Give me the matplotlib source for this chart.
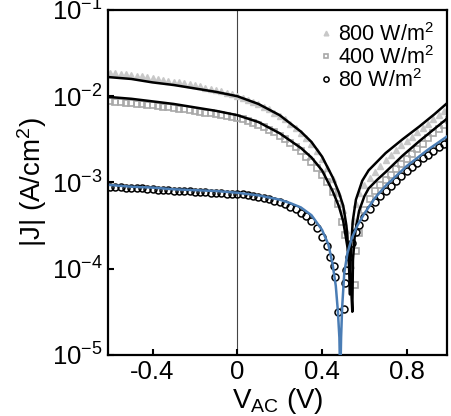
#!/usr/bin/env python3
"""J-V curves (log |J|) at three irradiances with fits."""
import matplotlib
matplotlib.use("Agg")
import matplotlib.pyplot as plt
import numpy as np

plt.rcParams["font.family"] = ["Liberation Sans", "DejaVu Sans"]
plt.rcParams["mathtext.fontset"] = "custom"
plt.rcParams["mathtext.rm"] = "Liberation Sans"
plt.rcParams["mathtext.it"] = "Liberation Sans:italic"
plt.rcParams["axes.unicode_minus"] = False

# measured data, log10 |J| (A/cm2)
v_800 = [-0.6, -0.575, -0.55, -0.525, -0.5, -0.475, -0.45, -0.425, -0.4, -0.375, -0.35, -0.325,
         -0.3, -0.275, -0.25, -0.225, -0.2, -0.175, -0.15, -0.125, -0.1, -0.075, -0.05, -0.025,
         0.0, 0.025, 0.05, 0.075, 0.1, 0.125, 0.15, 0.175, 0.2, 0.225, 0.25, 0.275, 0.3, 0.325,
         0.35, 0.375, 0.4, 0.425, 0.45, 0.475, 0.5, 0.515, 0.525, 0.537,
         0.55, 0.56, 0.575, 0.6, 0.625, 0.65, 0.675, 0.7, 0.725, 0.75, 0.775, 0.8, 0.825, 0.85,
         0.875, 0.9, 0.925, 0.95, 0.975, 1.0]
logj_800 = [-1.73, -1.735, -1.74, -1.745, -1.75, -1.76, -1.77, -1.78, -1.79, -1.80, -1.81, -1.82,
            -1.83, -1.84, -1.85, -1.86, -1.87, -1.885, -1.90, -1.915, -1.93, -1.945, -1.96, -1.98,
            -2.0, -2.02, -2.04, -2.065, -2.09, -2.12, -2.15, -2.19, -2.23, -2.27, -2.32, -2.37, -2.43, -2.49,
            -2.56, -2.64, -2.73, -2.83, -2.96, -3.12, -3.32, -3.55, -3.75, -3.96,
            -3.45, -3.25, -3.12, -3.03, -2.95, -2.88, -2.81, -2.74, -2.68, -2.62, -2.57, -2.52, -2.47, -2.42,
            -2.37, -2.32, -2.27, -2.22, -2.17, -2.11]

v_400 = [-0.6, -0.575, -0.55, -0.525, -0.5, -0.475, -0.45, -0.425, -0.4, -0.375, -0.35, -0.325,
         -0.3, -0.275, -0.25, -0.225, -0.2, -0.175, -0.15, -0.125, -0.1, -0.075, -0.05, -0.025,
         0.0, 0.025, 0.05, 0.075, 0.1, 0.125, 0.15, 0.175, 0.2, 0.225, 0.25, 0.275, 0.3, 0.325,
         0.35, 0.375, 0.4, 0.425, 0.45, 0.475, 0.495, 0.51,
         0.557, 0.562, 0.575, 0.6, 0.625, 0.65, 0.675, 0.7, 0.725, 0.75, 0.775, 0.8, 0.825, 0.85,
         0.875, 0.9, 0.925, 0.95, 0.975, 1.0]
logj_400 = [-2.06, -2.065, -2.07, -2.075, -2.08, -2.085, -2.09, -2.10, -2.105, -2.11, -2.12, -2.13,
            -2.135, -2.145, -2.15, -2.16, -2.17, -2.18, -2.19, -2.20, -2.21, -2.22, -2.23, -2.24,
            -2.25, -2.27, -2.29, -2.31, -2.33, -2.36, -2.39, -2.42, -2.46, -2.50, -2.54, -2.59, -2.64, -2.70,
            -2.76, -2.83, -2.91, -3.0, -3.11, -3.25, -3.46, -3.61,
            -4.19, -3.80, -3.59, -3.32, -3.19, -3.10, -3.03, -2.97, -2.91, -2.85, -2.79, -2.73, -2.67, -2.61,
            -2.55, -2.49, -2.43, -2.38, -2.33, -2.28]

v_80 = [-0.6, -0.575, -0.55, -0.525, -0.5, -0.475, -0.45, -0.425, -0.4, -0.375, -0.35, -0.325,
        -0.3, -0.275, -0.25, -0.225, -0.2, -0.175, -0.15, -0.125, -0.1, -0.075, -0.05, -0.025,
        0.0, 0.025, 0.05, 0.075, 0.1, 0.125, 0.15, 0.175, 0.2, 0.225, 0.25, 0.275, 0.3, 0.325,
        0.35, 0.375, 0.4, 0.424, 0.44, 0.456, 0.462, 0.476,
        0.503, 0.51, 0.515, 0.525, 0.54, 0.56, 0.575, 0.6, 0.625, 0.65, 0.675, 0.7, 0.725, 0.75,
        0.775, 0.8, 0.825, 0.85, 0.875, 0.9, 0.925, 0.95, 0.975, 1.0]
logj_80 = [-3.05, -3.05, -3.055, -3.06, -3.065, -3.07, -3.07, -3.075, -3.08, -3.085, -3.09, -3.09,
           -3.095, -3.10, -3.10, -3.105, -3.11, -3.11, -3.115, -3.12, -3.12, -3.125, -3.13, -3.13,
           -3.135, -3.14, -3.15, -3.16, -3.17, -3.18, -3.19, -3.21, -3.23, -3.25, -3.28, -3.31, -3.35, -3.39,
           -3.45, -3.53, -3.63, -3.74, -3.86, -3.97, -4.10, -4.50,
           -4.47, -4.17, -4.02, -3.86, -3.70, -3.57, -3.49, -3.40, -3.31, -3.23, -3.16, -3.10, -3.04, -2.98,
           -2.93, -2.87, -2.82, -2.77, -2.72, -2.68, -2.63, -2.59, -2.55, -2.50]

# fits
vfit_800 = [-0.6, -0.5, -0.4, -0.3, -0.2, -0.1, 0.0, 0.1, 0.2, 0.3, 0.35, 0.4, 0.45, 0.48, 0.5,
            0.515, 0.525, 0.532, 0.536, 0.545, 0.56, 0.59, 0.62, 0.66, 0.7, 0.78, 0.86, 0.93, 1.0]
logfit_800 = [-1.78, -1.80, -1.84, -1.87, -1.91, -1.95, -2.0, -2.09, -2.22, -2.41, -2.53, -2.70, -2.94,
              -3.12, -3.27, -3.5, -3.8, -4.3, -3.8, -3.45, -3.2, -2.98, -2.86, -2.76, -2.66, -2.50,
              -2.35, -2.21, -2.06]

vfit_400 = [-0.6, -0.5, -0.4, -0.3, -0.2, -0.1, 0.0, 0.1, 0.2, 0.3, 0.35, 0.4, 0.45, 0.48, 0.5,
            0.52, 0.535, 0.543, 0.546, 0.555, 0.575, 0.6, 0.62, 0.66, 0.7, 0.78, 0.86, 0.93, 1.0]
logfit_400 = [-2.01, -2.03, -2.06, -2.09, -2.13, -2.17, -2.22, -2.30, -2.43, -2.60, -2.71, -2.86, -3.10,
              -3.28, -3.45, -3.75, -4.1, -4.5, -3.9, -3.6, -3.33, -3.16, -3.07, -2.97, -2.88, -2.69,
              -2.52, -2.38, -2.24]

vfit_80 = [-0.6, -0.5, -0.4, -0.3, -0.2, -0.1, 0.0, 0.1, 0.2, 0.25, 0.3, 0.35, 0.4, 0.43, 0.45,
           0.465, 0.475, 0.482, 0.486, 0.49, 0.495, 0.505, 0.52, 0.54, 0.567, 0.6, 0.65, 0.7, 0.8,
           0.9, 1.0]
logfit_80 = [-3.03, -3.05, -3.06, -3.08, -3.09, -3.10, -3.12, -3.15, -3.20, -3.24, -3.29, -3.38, -3.55,
             -3.72, -3.95, -4.2, -4.5, -4.8, -5.3, -4.8, -4.45, -4.05, -3.82, -3.65, -3.5, -3.36,
             -3.18, -3.04, -2.81, -2.62, -2.45]

labels = [r"800 W/m$\mathregular{^2}$", r"400 W/m$\mathregular{^2}$", r"80 W/m$\mathregular{^2}$"]

fig = plt.figure(figsize=(4.52, 4.16), dpi=100)
ax = fig.add_axes([0.239, 0.147, 0.750, 0.829])

ax.axvline(0, color="#444444", lw=0.8, zorder=1)

ax.plot(v_800, 10 ** np.array(logj_800), ls="none", marker="^", ms=4.5, mfc="#c8c8c8",
        mec="#c8c8c8", label=labels[0], zorder=2)
ax.plot(v_400, 10 ** np.array(logj_400), ls="none", marker="s", ms=4.5, mfc="none",
        mec="#a8a8a8", mew=1.2, label=labels[1], zorder=2)
ax.plot(v_80, 10 ** np.array(logj_80), ls="none", marker="o", ms=5, mfc="none",
        mec="black", mew=1.1, label=labels[2], zorder=3)

ax.plot(vfit_800, 10 ** np.array(logfit_800), color="black", lw=1.8, zorder=4)
ax.plot(vfit_400, 10 ** np.array(logfit_400), color="black", lw=1.8, zorder=4)
ax.plot(vfit_80, 10 ** np.array(logfit_80), color="#4a7db5", lw=1.8, zorder=5)

ax.set_yscale("log")
ax.set_xlim(-0.61, 0.99)
ax.set_ylim(1e-5, 1e-1)
ax.set_xticks([-0.4, 0, 0.4, 0.8])
ax.set_xticklabels(["-0.4", "0", "0.4", "0.8"])
ax.set_yticks([1e-5, 1e-4, 1e-3, 1e-2, 1e-1])
ax.set_yticklabels([r"$\mathregular{10^{-%d}}$" % k for k in [5, 4, 3, 2, 1]])
ax.yaxis.set_minor_locator(matplotlib.ticker.NullLocator())
ax.tick_params(direction="in", length=4, width=1.5, labelsize=18.5, pad=4)
for s in ax.spines.values():
    s.set_linewidth(1.6)

ax.set_xlabel(r"$\mathregular{V_{AC}}$ (V)", fontsize=20, labelpad=1)
ax.set_ylabel(r"|J| (A/cm$\mathregular{^2}$)", fontsize=20, labelpad=2)

ax.legend(loc="upper right", frameon=False, fontsize=15.5, handlelength=0.45,
          handletextpad=0.35, labelspacing=0.0, borderaxespad=0.3, markerscale=0.75,
          borderpad=0.3)

fig.savefig("out.png", dpi=100)
